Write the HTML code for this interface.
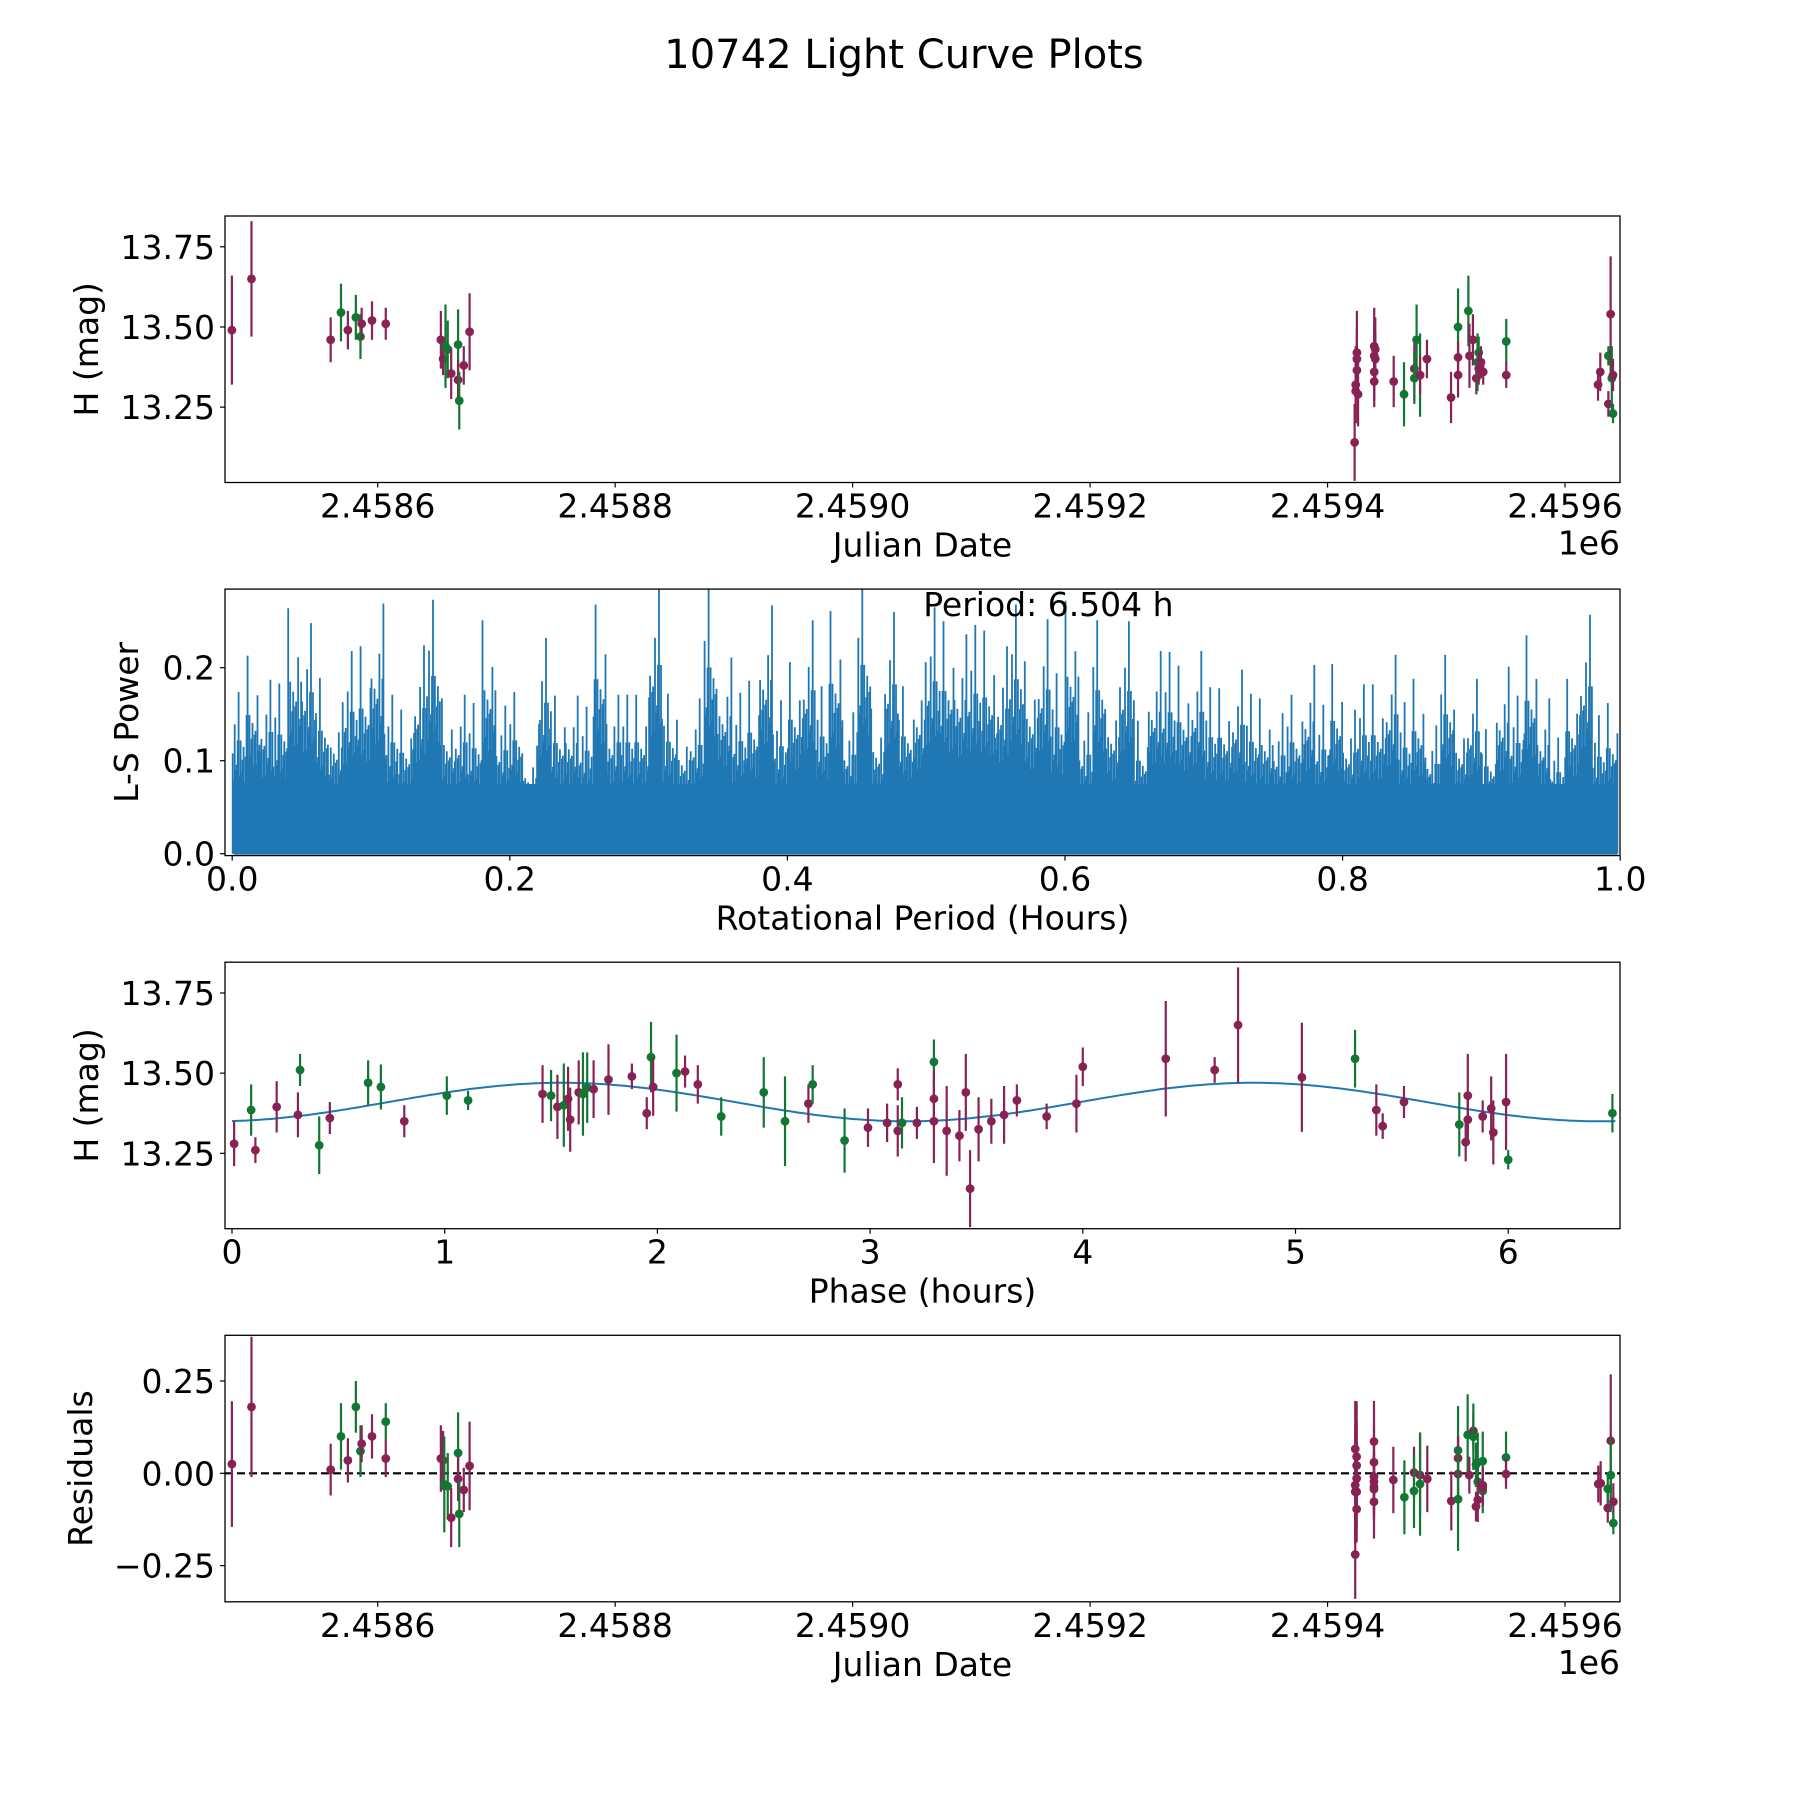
<!DOCTYPE html>
<html><head><meta charset="utf-8">
<style>
html,body{margin:0;padding:0;background:#fff;}
svg{display:block;font-family:"DejaVu Sans","Liberation Sans",sans-serif;}
</style></head>
<body>
<svg id="fig" width="1800" height="1800" viewBox="0 0 1800 1800" xmlns="http://www.w3.org/2000/svg">
<rect width="1800" height="1800" fill="#fff"/>
<text x="904" y="68" font-size="40" text-anchor="middle">10742 Light Curve Plots</text>
</svg>
<script>
// ---------- DATA ----------
const JD0 = 2458600;
const lcDay = [-122.8,-106.3,-39.6,-30.9,-25.1,-18.4,-14.5,-13.5,-4.8,6.8,53.2,55.1,57.1,59.0,61.9,67.7,67.7,68.7,72.5,77.4,
822.8,823.7,823.7,824.7,824.7,824.7,825.7,839.3,839.3,840.2,839.3,839.3,840.2,855.7,864.4,873.1,873.1,875.0,877.9,877.9,883.7,904.0,909.9,909.9,909.9,918.6,919.5,922.4,925.3,926.3,927.3,927.3,929.2,931.1,950.5,950.5,1027.8,1029.7,1036.5,1036.5,1038.4,1039.4,1040.4,1040.4];
const lcMag = [13.49,13.65,13.46,13.545,13.49,13.53,13.47,13.51,13.52,13.51,13.46,13.40,13.44,13.43,13.355,13.445,13.335,13.27,13.38,13.485,
13.14,13.32,13.30,13.42,13.40,13.365,13.29,13.44,13.41,13.43,13.36,13.33,13.40,13.33,13.29,13.37,13.34,13.46,13.35,13.35,13.40,13.28,13.50,13.405,13.35,13.55,13.41,13.46,13.34,13.39,13.42,13.37,13.39,13.36,13.455,13.35,13.32,13.36,13.26,13.41,13.54,13.34,13.35,13.23];
const lcErr = [0.17,0.18,0.07,0.09,0.06,0.07,0.07,0.05,0.06,0.05,0.09,0.05,0.13,0.09,0.08,0.11,0.06,0.09,0.06,0.12,
0.12,0.12,0.1,0.13,0.1,0.09,0.1,0.12,0.1,0.1,0.09,0.08,0.08,0.08,0.1,0.1,0.08,0.11,0.13,0.06,0.06,0.08,0.12,0.05,0.07,0.11,0.1,0.08,0.05,0.09,0.05,0.05,0.05,0.04,0.07,0.04,0.05,0.06,0.04,0.03,0.18,0.1,0.05,0.03];
const lcBandList = ["m","m","m","g","m","g","g","m","m","m","m","m","g","g","m","g","m","g","m","m",
"m","m","m","m","m","m","m","m","m","m","m","m","m","m","g","m","g","g","g","m","m","m","g","m","m","g","m","m","m","g","g","m","m","m","g","m","m","m","m","g","m","g","m","g"];

const pgPeaks = [0.174,0.213,0.187,0.183,0.264,0.248,0.189,0.163,0.218,0.223,0.269,0.171,0.155,0.224,0.273,0.167,0.171,0.162,0.251,0.159,0.174,0.116,0.232,0.170,0.170,0.158,0.268,0.171,0.171,0.171,0.290,0.172,0.144,0.167,0.286,0.211,0.173,0.186,0.267,0.165,0.206,0.251,0.180,0.261,0.152,0.290,0.156,0.260,0.180,0.206,
0.265,0.250,0.236,0.246,0.240,0.223,0.268,0.207,0.252,0.194,0.272,0.152,0.251,0.179,0.250,0.143,0.218,0.217,0.202,0.218,0.179,0.178,0.198,0.172,0.167,0.151,0.171,0.203,0.160,0.204,0.155,0.182,0.182,0.214,0.163,0.188,0.138,0.214,0.155,0.188,0.134,0.201,0.170,0.235,0.167,0.125,0.188,0.257,0.149,0.162];
const pgBinWidth = [0.01];
const pgFloor = [0.075];
const bestPeriod = ["Period: 6.504 h"];

const phHour = [0.01,0.09,0.11,0.21,0.31,0.32,0.41,0.46,0.64,0.70,0.81,1.01,1.11,1.46,1.50,1.53,1.56,1.58,1.59,1.63,1.65,1.67,1.70,1.77,1.88,1.95,1.97,1.98,2.09,2.13,2.19,2.30,2.50,2.60,2.71,2.73,2.88,2.99,3.08,3.13,3.13,3.15,3.22,3.30,3.30,3.30,3.36,3.42,3.45,3.47,3.51,3.57,3.63,3.69,3.83,3.97,4.00,4.39,4.62,4.73,5.03,5.28,5.38,5.41,5.51,5.77,5.80,5.81,5.81,5.88,5.92,5.93,5.99,6.00,6.49];
const phMag = [13.28,13.385,13.26,13.395,13.37,13.51,13.275,13.36,13.47,13.457,13.35,13.43,13.415,13.435,13.43,13.395,13.40,13.42,13.355,13.44,13.435,13.455,13.45,13.48,13.49,13.375,13.55,13.457,13.50,13.505,13.465,13.365,13.44,13.35,13.405,13.465,13.29,13.33,13.345,13.465,13.32,13.345,13.345,13.535,13.42,13.35,13.32,13.305,13.44,13.14,13.325,13.35,13.37,13.415,13.365,13.405,13.52,13.545,13.51,13.65,13.487,13.545,13.385,13.335,13.41,13.34,13.285,13.43,13.355,13.365,13.39,13.315,13.41,13.23,13.375];
const phErr = [0.07,0.08,0.04,0.08,0.07,0.05,0.09,0.05,0.07,0.07,0.05,0.06,0.03,0.09,0.08,0.1,0.13,0.1,0.1,0.1,0.13,0.11,0.09,0.11,0.04,0.05,0.11,0.09,0.12,0.05,0.06,0.06,0.11,0.14,0.06,0.06,0.1,0.06,0.06,0.05,0.08,0.08,0.05,0.07,0.09,0.13,0.14,0.08,0.12,0.12,0.1,0.07,0.09,0.05,0.04,0.09,0.06,0.18,0.04,0.18,0.17,0.09,0.08,0.04,0.05,0.1,0.06,0.13,0.08,0.05,0.1,0.1,0.15,0.03,0.06];
const phBand = ["m","g","m","m","m","g","g","m","g","g","m","g","g","m","g","m","g","m","m","m","g","g","m","m","m","m","g","m","g","m","m","g","g","g","m","g","g","m","m","m","m","g","m","g","m","m","m","m","m","m","m","m","m","m","m","m","m","m","m","m","m","g","m","m","m","g","m","m","m","m","m","m","m","g","g"];
const modelMean = [13.41];
const modelAmp = [0.06];
const modelPeak = [1.55];
const modelPeriod = [6.504];

const resDay = [-122.8,-106.3,-39.6,-30.9,-25.1,-18.4,-14.5,-13.5,-4.8,6.8,6.8,53.2,55.1,56.1,59.0,61.9,67.7,67.7,68.7,72.5,77.4,
823.3,823.3,823.3,823.3,824.5,824.5,824.5,824.5,824.5,839.1,839.1,839.1,839.1,839.1,839.1,839.1,855.4,864.7,872.8,872.8,877.9,877.9,884,904.2,909.9,909.9,909.9,909.9,918,919.4,922.8,922.8,925,925,926.5,926.5,926.5,930.7,930.7,930.7,930.7,950.3,950.3,1028,1030,1036,1036,1038.5,1038.5,1040.7,1040.7];
const resVal = [0.025,0.18,0.01,0.10,0.035,0.18,0.06,0.08,0.10,0.14,0.04,0.04,0.035,-0.03,-0.035,-0.12,0.055,-0.015,-0.11,-0.045,0.02,
0.066,-0.032,-0.05,-0.22,0.045,0.021,-0.014,-0.05,-0.097,0.086,0.03,-0.009,-0.023,-0.036,-0.043,-0.077,-0.018,-0.065,0.002,-0.048,-0.005,-0.029,-0.015,-0.075,0.062,0.041,-0.002,-0.07,0.104,-0.005,0.115,0.099,0.023,-0.09,0.03,-0.023,-0.072,0.033,-0.032,-0.048,-0.039,0.043,-0.002,-0.029,-0.027,-0.094,-0.042,0.088,-0.005,-0.077,-0.135];
const resErr = [0.17,0.19,0.07,0.09,0.06,0.07,0.07,0.05,0.06,0.05,0.05,0.09,0.08,0.13,0.09,0.08,0.11,0.06,0.09,0.06,0.12,
0.13,0.16,0.12,0.12,0.15,0.12,0.1,0.1,0.09,0.11,0.1,0.1,0.08,0.09,0.08,0.1,0.09,0.1,0.07,0.1,0.11,0.14,0.09,0.08,0.12,0.06,0.1,0.14,0.11,0.05,0.05,0.09,0.06,0.04,0.08,0.05,0.06,0.08,0.05,0.06,0.05,0.07,0.04,0.05,0.06,0.04,0.04,0.18,0.1,0.05,0.03];
const resBand = ["m","m","m","g","m","g","g","m","m","g","m","m","m","g","g","m","g","m","g","m","m",
"m","m","m","m","m","m","m","m","m","m","m","m","m","m","m","m","m","g","m","g","m","g","m","m","g","m","m","g","g","m","m","g","g","m","g","g","m","g","m","g","m","g","m","m","m","m","g","m","g","m","g"];

const jdTicks = [2458600,2458800,2459000,2459200,2459400,2459600];
const jdTickLabels = ["2.4586","2.4588","2.4590","2.4592","2.4594","2.4596"];
const magTicks = [13.25,13.50,13.75];
const magTickLabels = ["13.25","13.50","13.75"];
const pgXTicks = [0,0.2,0.4,0.6,0.8,1.0];
const pgXTickLabels = ["0.0","0.2","0.4","0.6","0.8","1.0"];
const pgYTicks = [0,0.1,0.2];
const pgYTickLabels = ["0.0","0.1","0.2"];
const phTicks = [0,1,2,3,4,5,6];
const phTickLabels = ["0","1","2","3","4","5","6"];
const resTicks = [-0.25,0,0.25];
const resTickLabels = ["\u22120.25","0.00","0.25"];

// ---------- RENDER ----------
const NS = "http://www.w3.org/2000/svg";
const svg = document.getElementById("fig");
const COL = {m:"#882255", g:"#117733"};
function mk(tag, attrs, parent){
  const e = document.createElementNS(NS, tag);
  for (const k in attrs) e.setAttribute(k, attrs[k]);
  (parent||svg).appendChild(e);
  return e;
}
const L = 225, R = 1620, H = 266.5;
const tops = [216, 589.1, 962.2, 1335.3];
function lin(d0,d1,p0,p1){ return v => p0 + (v-d0)*(p1-p0)/(d1-d0); }

function axesFrame(i, name){
  const g = mk("g", {});
  
  
  const clip = mk("clipPath", {id:"clip"+i}, g);
  mk("rect", {x:L, y:tops[i], width:R-L, height:H}, clip);
  const plot = mk("g", {"clip-path":"url(#clip"+i+")"}, g);
  
  
  return {g, plot};
}
function drawBorder(g,i){
  const r = mk("rect", {x:L, y:tops[i], width:R-L, height:H, fill:"none", stroke:"#000", "stroke-width":1.3}, g);
  
  
}
function xTicks(g,i,ticks,labels,sx,name){
  const yb = tops[i]+H;
  ticks.forEach((t,k)=>{
    const x = sx(t);
    mk("line",{x1:x,x2:x,y1:yb,y2:yb+5,stroke:"#000","stroke-width":1.2},g);
    const tx = mk("text",{x:x,y:yb+35,"font-size":33,"text-anchor":"middle"},g);
    tx.textContent = labels[k];
    
    
  });
}
function yTicks(g,i,ticks,labels,sy,name){
  ticks.forEach((t,k)=>{
    const y = sy(t);
    mk("line",{x1:L-5,x2:L,y1:y,y2:y,stroke:"#000","stroke-width":1.2},g);
    const tx = mk("text",{x:L-10,y:y+12,"font-size":33,"text-anchor":"end"},g);
    tx.textContent = labels[k];
    
    
  });
}
function xLabel(g,i,text,name){
  const t = mk("text",{x:(L+R)/2,y:tops[i]+H+74,"font-size":33,"text-anchor":"middle"},g);
  t.textContent = text;
  
  
}
function yLabel(g,i,text,cx,name){
  const cy = tops[i]+H/2;
  const t = mk("text",{x:0,y:0,"font-size":33,"text-anchor":"middle","transform":"translate("+(cx+12)+","+cy+") rotate(-90)"},g);
  t.textContent = text;
  
  
}
function errPoints(plot, xs, ys, es, bands, sx, sy, name){
  for (let k=0;k<xs.length;k++){
    const c = COL[bands[k]] || COL.m;
    const x = sx(xs[k]);
    const l = mk("line",{x1:x,x2:x,y1:sy(ys[k]-es[k]),y2:sy(ys[k]+es[k]),stroke:c,"stroke-width":2.2},plot);
    
    
    const p = mk("circle",{cx:x,cy:sy(ys[k]),r:4.4,fill:c},plot);
    
    
  }
}
function jdLabel(g,i){
  const t = mk("text",{x:R,y:tops[i]+H+72,"font-size":33,"text-anchor":"end"},g);
  t.textContent = "1e6";
  
  
}

// Panel 1: light curve vs JD
const sxJD = lin(2458471.4, 2459646.3, L, R);
const syMag = v => lin(13.015, 13.846, tops[0]+H, tops[0])(v);
{
  const {g, plot} = axesFrame(0, "light-curve-panel");
  errPoints(plot, lcDay.map(d=>d+JD0), lcMag, lcErr, lcBandList, sxJD, syMag, "lightcurve");
  drawBorder(g,0);
  xTicks(g,0,jdTicks,jdTickLabels,sxJD,"x-axis");
  yTicks(g,0,magTicks,magTickLabels,syMag,"y-axis");
  xLabel(g,0,"Julian Date","x-axis-title");
  jdLabel(g,0);
  yLabel(g,0,"H (mag)",86,"y-axis-title");
}
// Panel 2: periodogram
{
  const i=1;
  const sx = lin(0,1,232.2,1620.2);
  const sy = lin(0,0.1,tops[i]+H-1.9,tops[i]+H-1.9-93);
  const {g, plot} = axesFrame(i, "periodogram-panel");
  const bw = pgBinWidth[0];
  const pat = [0.62,0.45,0.8,0.52,0.55,0.7,1,0.48,0.7,0.5,0.58,0.66,0.44,0.6];
  const base = mk("rect",{x:sx(0.001),y:sy(pgFloor[0]),width:sx(0.998)-sx(0.001),height:sy(0)-sy(pgFloor[0])+1,fill:"#1f77b4"},plot);
  
  
  let d = "";
  const n = pat.length;
  for (let k=0;k<pgPeaks.length;k++){
    const x0 = k*bw;
    for (let j=0;j<n;j++){
      const f = pat[(j+k*5)%n];
      const h = Math.max(pgFloor[0], pgPeaks[k]*f);
      const xv = Math.min(0.998, x0 + bw*(j+0.5)/n);
      const xp = sx(xv);
      d += "M"+xp.toFixed(1)+" "+sy(0).toFixed(1)+"V"+sy(h).toFixed(1);
    }
  }
  const pth = mk("path",{d:d,stroke:"#1f77b4","stroke-width":1.8,fill:"none"},plot);
  
  
  drawBorder(g,i);
  xTicks(g,i,pgXTicks,pgXTickLabels,sx,"x-axis");
  yTicks(g,i,pgYTicks,pgYTickLabels,sy,"y-axis");
  xLabel(g,i,"Rotational Period (Hours)","x-axis-title");
  yLabel(g,i,"L-S Power",126,"y-axis-title");
  const pt = mk("text",{x:sx(0.5)-3,y:tops[i]+27,"font-size":33},g);
  pt.textContent = bestPeriod[0];
  
  
}
// Panel 3: phased
{
  const i=2;
  const sx = lin(0,1,232,444.7);
  const sy = lin(13.015, 13.846, tops[i]+H, tops[i]);
  const {g, plot} = axesFrame(i, "phased-panel");
  let d="";
  for (let t=0;t<=modelPeriod[0]+1e-9;t+=modelPeriod[0]/300){
    const v = modelMean[0] + modelAmp[0]*Math.cos(4*Math.PI*(t-modelPeak[0])/modelPeriod[0]);
    d += (d?"L":"M")+sx(t).toFixed(1)+" "+sy(v).toFixed(1);
  }
  const c = mk("path",{d:d,stroke:"#1f77b4","stroke-width":2,fill:"none"},plot);
  
  
  errPoints(plot, phHour, phMag, phErr, phBand, sx, sy, "phased");
  drawBorder(g,i);
  xTicks(g,i,phTicks,phTickLabels,sx,"x-axis");
  yTicks(g,i,magTicks,magTickLabels,sy,"y-axis");
  xLabel(g,i,"Phase (hours)","x-axis-title");
  yLabel(g,i,"H (mag)",86,"y-axis-title");
}
// Panel 4: residuals
{
  const i=3;
  const sy = lin(0,0.25,1473.3,1473.3-92.3);
  const {g, plot} = axesFrame(i, "residuals-panel");
  const zl = mk("line",{x1:L,x2:R,y1:sy(0),y2:sy(0),stroke:"#000","stroke-width":2.2,"stroke-dasharray":"8,4"},plot);
  
  
  errPoints(plot, resDay.map(d=>d+JD0), resVal, resErr, resBand, sxJD, sy, "residual");
  drawBorder(g,i);
  xTicks(g,i,jdTicks,jdTickLabels,sxJD,"x-axis");
  yTicks(g,i,resTicks,resTickLabels,sy,"y-axis");
  xLabel(g,i,"Julian Date","x-axis-title");
  jdLabel(g,i);
  yLabel(g,i,"Residuals",80,"y-axis-title");
}
</script>
</body></html>
